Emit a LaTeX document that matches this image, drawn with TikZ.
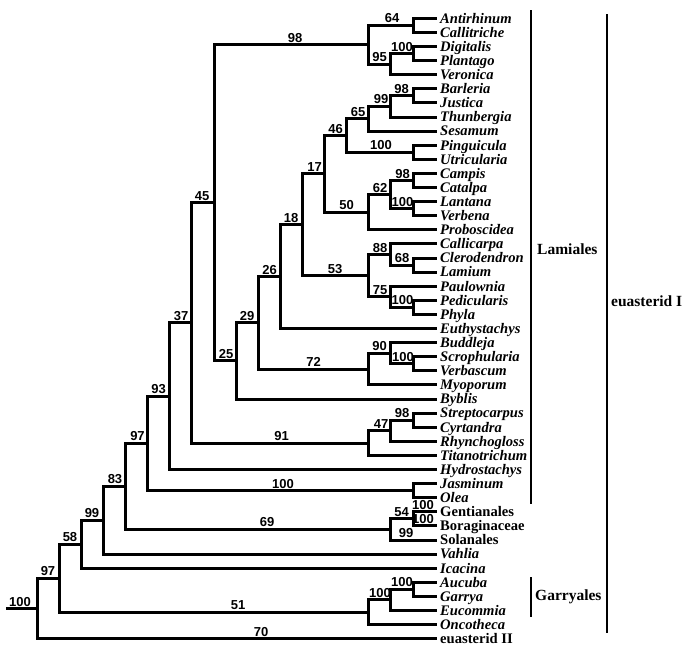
\documentclass[tikz,border=0pt]{standalone}
\usepackage{fontspec}
\setmainfont{Liberation Serif}
\newfontfamily\numfont{Liberation Sans}
\begin{document}
\begin{tikzpicture}[x=1pt,y=-1pt,
  edge/.style={line width=3pt, line join=miter},
  leaf/.style={anchor=west, inner xsep=3.5pt, inner ysep=0pt, text height=9.6pt, text depth=0pt, font=\fontsize{14.6}{14.6}\selectfont\bfseries\itshape},
  plainleaf/.style={leaf, font=\fontsize{14.6}{14.6}\selectfont\bfseries},
  bs/.style={anchor=base, inner sep=0pt, font=\fontsize{13}{13}\selectfont\numfont\bfseries},
  clade/.style={anchor=west, inner sep=0pt, font=\fontsize{15.5}{15.5}\selectfont\bfseries},
  bar/.style={line width=2.2pt}]
\useasboundingbox (0,0) rectangle (685,654);
% leaves
\node[leaf] (l1) at (436.5,18.3) {Antirhinum};
\node[leaf] (l2) at (436.5,32.4) {Callitriche};
\node[leaf] (l3) at (436.5,46.5) {Digitalis};
\node[leaf] (l4) at (436.5,60.6) {Plantago};
\node[leaf] (l5) at (436.5,74.7) {Veronica};
\node[leaf] (l6) at (436.5,88.8) {Barleria};
\node[leaf] (l7) at (436.5,102.9) {Justica};
\node[leaf] (l8) at (436.5,117.0) {Thunbergia};
\node[leaf] (l9) at (436.5,131.1) {Sesamum};
\node[leaf] (l10) at (436.5,145.2) {Pinguicula};
\node[leaf] (l11) at (436.5,159.3) {Utricularia};
\node[leaf] (l12) at (436.5,173.4) {Campis};
\node[leaf] (l13) at (436.5,187.5) {Catalpa};
\node[leaf] (l14) at (436.5,201.6) {Lantana};
\node[leaf] (l15) at (436.5,215.7) {Verbena};
\node[leaf] (l16) at (436.5,229.8) {Proboscidea};
\node[leaf] (l17) at (436.5,243.9) {Callicarpa};
\node[leaf] (l18) at (436.5,258.0) {Clerodendron};
\node[leaf] (l19) at (436.5,272.1) {Lamium};
\node[leaf] (l20) at (436.5,286.2) {Paulownia};
\node[leaf] (l21) at (436.5,300.3) {Pedicularis};
\node[leaf] (l22) at (436.5,314.4) {Phyla};
\node[leaf] (l23) at (436.5,328.5) {Euthystachys};
\node[leaf] (l24) at (436.5,342.6) {Buddleja};
\node[leaf] (l25) at (436.5,356.7) {Scrophularia};
\node[leaf] (l26) at (436.5,370.8) {Verbascum};
\node[leaf] (l27) at (436.5,384.9) {Myoporum};
\node[leaf] (l28) at (436.5,399.0) {Byblis};
\node[leaf] (l29) at (436.5,413.1) {Streptocarpus};
\node[leaf] (l30) at (436.5,427.2) {Cyrtandra};
\node[leaf] (l31) at (436.5,441.3) {Rhynchogloss};
\node[leaf] (l32) at (436.5,455.4) {Titanotrichum};
\node[leaf] (l33) at (436.5,469.5) {Hydrostachys};
\node[leaf] (l34) at (436.5,483.6) {Jasminum};
\node[leaf] (l35) at (436.5,497.7) {Olea};
\node[plainleaf] (l36) at (436.5,511.8) {Gentianales};
\node[plainleaf] (l37) at (436.5,525.9) {Boraginaceae};
\node[plainleaf] (l38) at (436.5,540.0) {Solanales};
\node[leaf] (l39) at (436.5,554.1) {Vahlia};
\node[leaf] (l40) at (436.5,568.2) {Icacina};
\node[leaf] (l41) at (436.5,582.3) {Aucuba};
\node[leaf] (l42) at (436.5,596.4) {Garrya};
\node[leaf] (l43) at (436.5,610.5) {Eucommia};
\node[leaf] (l44) at (436.5,624.6) {Oncotheca};
\node[plainleaf] (l45) at (436.5,638.7) {euasterid II};
% internal nodes
\coordinate (n64) at (413,25.35);
\coordinate (n100a) at (413,53.55);
\coordinate (n95) at (390.9,64.13);
\coordinate (ntop) at (368.8,44.74);
\coordinate (n98b) at (413,95.85);
\coordinate (n99) at (390.9,106.43);
\coordinate (n65) at (368.8,118.76);
\coordinate (n100p) at (413,152.25);
\coordinate (n46) at (346.7,135.5);
\coordinate (n98c) at (413,180.45);
\coordinate (n100l) at (413,208.65);
\coordinate (n62) at (390.9,194.55);
\coordinate (n50) at (368.8,212.18);
\coordinate (n17) at (324.6,173.84);
\coordinate (n68) at (413,265.05);
\coordinate (n88) at (390.9,254.48);
\coordinate (n100ph) at (413,307.35);
\coordinate (n75) at (390.9,296.78);
\coordinate (n53) at (368.8,275.63);
\coordinate (n18) at (302.4,224.73);
\coordinate (n26) at (280.3,276.62);
\coordinate (n100s) at (413,363.75);
\coordinate (n90) at (390.9,353.18);
\coordinate (n72) at (368.8,369.04);
\coordinate (n29) at (258.2,322.83);
\coordinate (n25) at (236.1,360.91);
\coordinate (n45) at (214.0,202.83);
\coordinate (n98s) at (413,420.15);
\coordinate (n47) at (390.9,430.73);
\coordinate (n91) at (368.8,443.06);
\coordinate (n37) at (191.8,322.94);
\coordinate (n93) at (169.7,396.22);
\coordinate (n100j) at (413,490.65);
\coordinate (n97b) at (147.6,443.44);
\coordinate (nb54) at (413,518.85);
\coordinate (na69) at (390.9,529.43);
\coordinate (n83) at (125.5,486.43);
\coordinate (n99r) at (103.4,520.26);
\coordinate (n58) at (81.2,544.23);
\coordinate (n100ag) at (413,589.35);
\coordinate (n100e) at (390.9,599.93);
\coordinate (n51) at (368.8,612.26);
\coordinate (n97a) at (59.1,578.25);
\coordinate (root) at (37,608.47);
\coordinate (r0) at (6,608.47);
% edges
\draw[edge] (r0) -- (root);
\draw[edge] (root) |- (n97a) (root) |- (l45);
\draw[edge] (n97a) |- (n58) (n97a) |- (n51);
\draw[edge] (n58) |- (n99r) (n58) |- (l40);
\draw[edge] (n99r) |- (n83) (n99r) |- (l39);
\draw[edge] (n83) |- (n97b) (n83) |- (na69);
\draw[edge] (n97b) |- (n93) (n97b) |- (n100j);
\draw[edge] (n93) |- (n37) (n93) |- (l33);
\draw[edge] (n37) |- (n45) (n37) |- (n91);
\draw[edge] (n45) |- (ntop) (n45) |- (n25);
\draw[edge] (ntop) |- (n64) (ntop) |- (n95);
\draw[edge] (n64) |- (l1) (n64) |- (l2);
\draw[edge] (n95) |- (n100a) (n95) |- (l5);
\draw[edge] (n100a) |- (l3) (n100a) |- (l4);
\draw[edge] (n25) |- (n29) (n25) |- (l28);
\draw[edge] (n29) |- (n26) (n29) |- (n72);
\draw[edge] (n26) |- (n18) (n26) |- (l23);
\draw[edge] (n18) |- (n17) (n18) |- (n53);
\draw[edge] (n17) |- (n46) (n17) |- (n50);
\draw[edge] (n46) |- (n65) (n46) |- (n100p);
\draw[edge] (n65) |- (n99) (n65) |- (l9);
\draw[edge] (n99) |- (n98b) (n99) |- (l8);
\draw[edge] (n98b) |- (l6) (n98b) |- (l7);
\draw[edge] (n100p) |- (l10) (n100p) |- (l11);
\draw[edge] (n50) |- (n62) (n50) |- (l16);
\draw[edge] (n62) |- (n98c) (n62) |- (n100l);
\draw[edge] (n98c) |- (l12) (n98c) |- (l13);
\draw[edge] (n100l) |- (l14) (n100l) |- (l15);
\draw[edge] (n53) |- (n88) (n53) |- (n75);
\draw[edge] (n88) |- (l17) (n88) |- (n68);
\draw[edge] (n68) |- (l18) (n68) |- (l19);
\draw[edge] (n75) |- (l20) (n75) |- (n100ph);
\draw[edge] (n100ph) |- (l21) (n100ph) |- (l22);
\draw[edge] (n72) |- (n90) (n72) |- (l27);
\draw[edge] (n90) |- (l24) (n90) |- (n100s);
\draw[edge] (n100s) |- (l25) (n100s) |- (l26);
\draw[edge] (n91) |- (n47) (n91) |- (l32);
\draw[edge] (n47) |- (n98s) (n47) |- (l31);
\draw[edge] (n98s) |- (l29) (n98s) |- (l30);
\draw[edge] (n100j) |- (l34) (n100j) |- (l35);
\draw[edge] (na69) |- (nb54) (na69) |- (l38);
\draw[edge] (nb54) |- (l36) (nb54) |- (l37);
\draw[edge] (n51) |- (n100e) (n51) |- (l44);
\draw[edge] (n100e) |- (n100ag) (n100e) |- (l43);
\draw[edge] (n100ag) |- (l41) (n100ag) |- (l42);
% support values
\node[bs] (s-root) at (20,606.0) {100};
\node[bs] (s-97a) at (48,575.8) {97};
\node[bs] (s-58) at (70,541.7) {58};
\node[bs] (s-99r) at (92,517.8) {99};
\node[bs] (s-83) at (115,483.9) {83};
\node[bs] (s-97b) at (137.5,440.9) {97};
\node[bs] (s-93) at (158.5,393.7) {93};
\node[bs] (s-37) at (181,320.4) {37};
\node[bs] (s-45) at (202,200.3) {45};
\node[bs] (s-25) at (226,358.4) {25};
\node[bs] (s-29) at (247,320.3) {29};
\node[bs] (s-26) at (269.5,274.1) {26};
\node[bs] (s-18) at (291,222.2) {18};
\node[bs] (s-17) at (314.5,171.3) {17};
\node[bs] (s-46) at (335.5,133.0) {46};
\node[bs] (s-65) at (358,116.3) {65};
\node[bs] (s-99) at (381,103.9) {99};
\node[bs] (s-98b) at (401.5,93.4) {98};
\node[bs] (s-top) at (295,42.2) {98};
\node[bs] (s-64) at (392,22.9) {64};
\node[bs] (s-95) at (379.5,61.6) {95};
\node[bs] (s-100a) at (402,51.0) {100};
\node[bs] (s-100p) at (381,149.8) {100};
\node[bs] (s-50) at (346.5,209.7) {50};
\node[bs] (s-62) at (380,192.0) {62};
\node[bs] (s-98c) at (402.5,178.0) {98};
\node[bs] (s-100l) at (402.5,206.2) {100};
\node[bs] (s-53) at (335,273.1) {53};
\node[bs] (s-88) at (380,252.0) {88};
\node[bs] (s-68) at (402,262.6) {68};
\node[bs] (s-75) at (380,294.3) {75};
\node[bs] (s-100ph) at (402.5,304.9) {100};
\node[bs] (s-72) at (313.5,366.5) {72};
\node[bs] (s-90) at (379.5,350.7) {90};
\node[bs] (s-100s) at (403,361.3) {100};
\node[bs] (s-91) at (281.5,440.6) {91};
\node[bs] (s-47) at (381,428.2) {47};
\node[bs] (s-98s) at (402,417.7) {98};
\node[bs] (s-100j) at (283,488.2) {100};
\node[bs] (s-69) at (267,526.9) {69};
\node[bs] (s-54) at (401.5,516.4) {54};
\node[bs] (s-gen) at (423,509.3) {100};
\node[bs] (s-bor) at (423,523.4) {100};
\node[bs] (s-sol) at (406,537.5) {99};
\node[bs] (s-51) at (238,609.8) {51};
\node[bs] (s-100e) at (380,597.4) {100};
\node[bs] (s-100ag) at (402,586.9) {100};
\node[bs] (s-70) at (261,636.2) {70};
% clade bars
\coordinate (lamtop) at (531,10);
\coordinate (lambot) at (531,504);
\coordinate (eItop) at (607,14);
\coordinate (eIbot) at (607,633);
\coordinate (gartop) at (531,577);
\coordinate (garbot) at (531,617);
\draw[bar] (lamtop) -- (lambot);
\draw[bar] (eItop) -- (eIbot);
\draw[bar] (gartop) -- (garbot);
\node[clade] (lam) at (537,249) {Lamiales};
\node[clade] (eI) at (611,301) {euasterid I};
\node[clade] (gar) at (535,597) {Garryales};
\end{tikzpicture}
\end{document}
